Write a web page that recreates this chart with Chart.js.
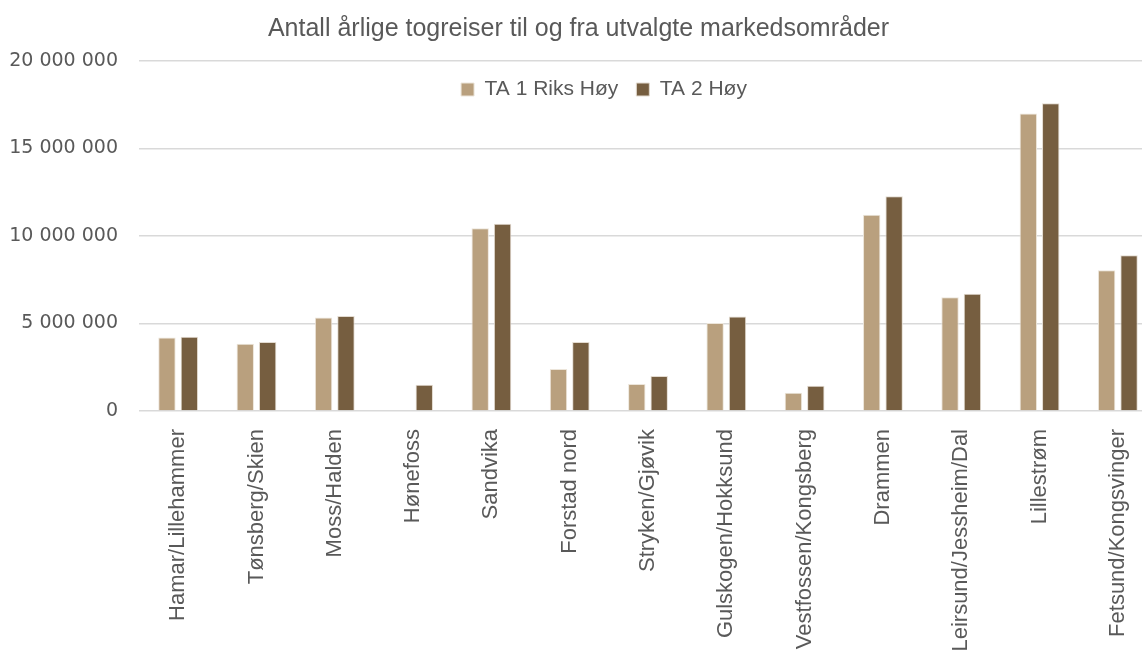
<!DOCTYPE html>
<html>
<head>
<meta charset="utf-8">
<script src="https://cdn.jsdelivr.net/npm/chart.js@4"></script>
<style>
  html, body { margin: 0; padding: 0; background: #fff; overflow: hidden; }
</style>
</head>
<body>
<canvas id="chart" width="1157" height="660"></canvas>
<script>
const categories = ['Hamar/Lillehammer', 'Tønsberg/Skien', 'Moss/Halden', 'Hønefoss', 'Sandvika', 'Forstad nord',
    'Stryken/Gjøvik', 'Gulskogen/Hokksund', 'Vestfossen/Kongsberg', 'Drammen', 'Leirsund/Jessheim/Dal', 'Lillestrøm', 'Fetsund/Kongsvinger'];
const ta1RiksHoy = [4200000, 3850000, 5350000, 0, 10450000, 2400000, 1550000, 5030000, 1050000, 11220000, 6500000, 17000000, 8050000];
const ta2Hoy = [4250000, 3950000, 5430000, 1500000, 10700000, 3950000, 2000000, 5400000, 1450000, 12270000, 6700000, 17590000, 8900000];
const yTicks = [0, 5000000, 10000000, 15000000, 20000000];

const grey = '#595959';
const fmt = v => String(v).replace(/\B(?=(\d{3})+(?!\d))/g, ' ');

// legend inside the plot, laid out in one row, a bit left of centre
const legendInPlot = {
    id: 'legendInPlot',
    beforeLayout(chart) {
        if (chart.legend) chart.legend.isHorizontal = () => true;
    },
    afterLayout(chart) {
        const ca = chart.chartArea;
        chart.legend.left = ca.left - 44;
        chart.legend.right = ca.right - 44;
    }
};

new Chart(document.getElementById('chart'), {
    type: 'bar',
    data: {
        labels: categories,
        datasets: [
            { label: 'TA 1 Riks Høy', data: ta1RiksHoy, backgroundColor: '#B9A07E', borderColor: '#ECE5DA', borderWidth: 1 },
            { label: 'TA 2 Høy', data: ta2Hoy, backgroundColor: '#765E40', borderColor: '#E3DBD0', borderWidth: 1 }
        ]
    },
    options: {
        responsive: false,
        animation: false,
        layout: { padding: 0 },
        datasets: { bar: { categoryPercentage: 0.572, barPercentage: 0.777 } },
        plugins: {
            title: {
                display: true,
                text: 'Antall årlige togreiser til og fra utvalgte markedsområder',
                color: grey,
                font: { family: 'Liberation Sans', size: 25, weight: 'normal' },
                padding: { top: 14, bottom: 17 }
            },
            legend: {
                position: 'chartArea',
                labels: {
                    color: grey,
                    font: { family: 'Liberation Sans', size: 21 },
                    boxWidth: 13, boxHeight: 13, padding: 18
                }
            },
            tooltip: { enabled: false }
        },
        scales: {
            x: {
                grid: { display: false },
                border: { display: false },
                ticks: {
                    color: grey, font: { family: 'Liberation Sans', size: 22 },
                    minRotation: 90, maxRotation: 90, padding: 10, autoSkip: false
                },
                afterFit: s => { s.height = 249; }
            },
            y: {
                min: 0, max: 20000000,
                afterBuildTicks: s => { s.ticks = yTicks.map(v => ({ value: v })); },
                grid: { color: '#D9D9D9', lineWidth: 1.5, drawTicks: false },
                border: { display: false },
                ticks: {
                    color: grey, font: { family: 'DejaVu Sans', size: 19 },
                    padding: 21, callback: v => fmt(v)
                },
                afterFit: s => { s.width = 139; }
            }
        }
    },
    plugins: [legendInPlot]
});
</script>
</body>
</html>
